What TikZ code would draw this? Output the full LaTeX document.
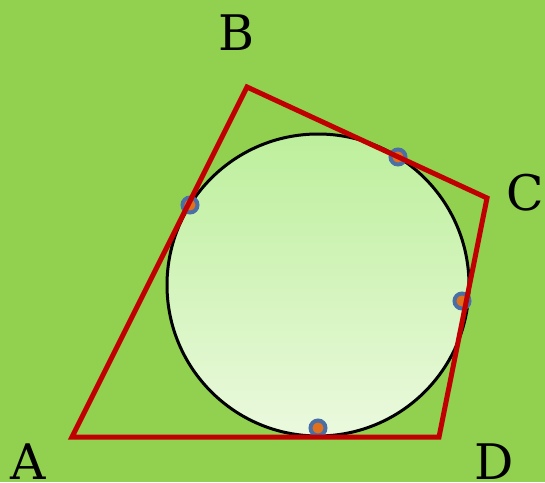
\documentclass[tikz,border=0pt]{standalone}
\usepackage{fontspec}
\setmainfont{DejaVu Serif}
\usetikzlibrary{calc}
\definecolor{bg}{HTML}{92D050}
\definecolor{edge}{HTML}{C00000}
\definecolor{ctop}{HTML}{BDEF9C}
\definecolor{cbot}{HTML}{EBF9DE}
\definecolor{ring}{HTML}{4A6FA5}
\definecolor{dotin}{HTML}{E0701C}
\tikzset{
  lbl/.style={font=\fontsize{49}{49}\selectfont,inner sep=0pt},
  side/.style={draw=edge,line width=5pt,line join=miter},
  tdot/.style={circle,draw=ring,line width=4pt,fill=dotin,minimum size=15pt,inner sep=0pt},
}
\begin{document}
\begin{tikzpicture}[x=1pt,y=-1pt]
\useasboundingbox[fill=bg] (0,0) rectangle (545,482);
% incircle
\node[circle,draw=black,line width=3pt,top color=ctop,bottom color=cbot,
  minimum size=302pt,inner sep=0pt] (inc) at (318,285) {};
% corners
\coordinate (A) at (72,437);
\coordinate (B) at (247,87);
\coordinate (C) at (487,198);
\coordinate (D) at (439,437);
% points of contact
\node[tdot] (tab) at (190,205) {};
\node[tdot] (tbc) at (398,157) {};
\node[tdot] (tcd) at (462,301) {};
\node[tdot] (tda) at (318,428) {};
\draw[side] (A) -- (B) -- (C) -- (D) -- cycle;
% labels
\node[lbl] (la) at (28,462) {A};
\node[lbl] (lb) at (237,33) {B};
\node[lbl] (lc) at (525,193) {C};
\node[lbl] (ld) at (494,462) {D};
\end{tikzpicture}
\end{document}
